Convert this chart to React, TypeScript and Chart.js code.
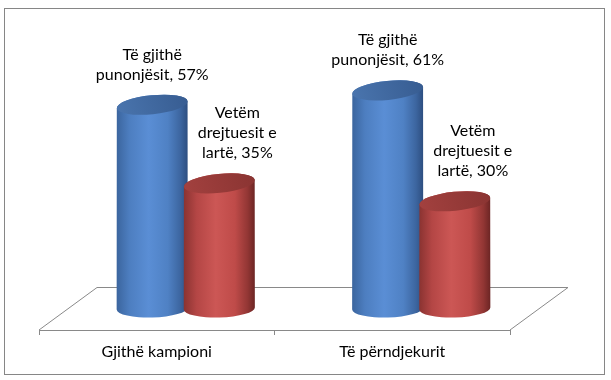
import React, { useEffect, useRef } from "react";
import { Chart, registerables } from "chart.js";

Chart.register(...registerables);

const categories = ["Gjithë kampioni", "Të përndjekurit"];
const seriesNames = ["Të gjithë punonjësit", "Vetëm drejtuesit e lartë"];
const allEmployees = [57, 61];
const seniorManagers = [35, 30];
const seriesLabelLines = [
  ["Të gjithë", "punonjësit"],
  ["Vetëm", "drejtuesit e", "lartë"],
];
const yMax = 80;

const FONT = "Lato, 'Open Sans', sans-serif";
const DEPTH_X = 58;
const DEPTH_Y = 43;
const GRAY = "#898989";

const bodyStops = [
  ["#3b659e", "#4d7ec0", "#5a8ed5", "#4f81c4", "#3c659f", "#2d4e80"],
  ["#8a3331", "#b44645", "#cc5755", "#bf4b49", "#923634", "#6c2524"],
];
const topStops = [
  ["#4a75ae", "#375c91"],
  ["#a3413f", "#8a3432"],
];

function drawCylinder(ctx: CanvasRenderingContext2D, cx: number, topY: number, baseY: number, rx: number, si: number) {
  const ryTop = 9.5;
  const ryBot = 9;
  const rotTop = -0.1;
  const rotBot = -0.03;
  const g = ctx.createLinearGradient(cx - rx, 0, cx + rx, 0);
  const st = bodyStops[si];
  const pos = [0, 0.18, 0.45, 0.72, 0.9, 1];
  st.forEach((c, i) => g.addColorStop(pos[i], c));
  ctx.beginPath();
  ctx.ellipse(cx, topY, rx, ryTop, rotTop, Math.PI, 0, false);
  ctx.ellipse(cx, baseY, rx, ryBot, rotBot, 0, Math.PI, false);
  ctx.closePath();
  ctx.fillStyle = g;
  ctx.fill();
  const tg = ctx.createLinearGradient(cx - rx, topY + ryTop, cx + rx, topY - ryTop);
  tg.addColorStop(0, topStops[si][0]);
  tg.addColorStop(1, topStops[si][1]);
  ctx.beginPath();
  ctx.ellipse(cx, topY, rx, ryTop, rotTop, 0, Math.PI * 2);
  ctx.fillStyle = tg;
  ctx.fill();
}

const cylinderPlugin = {
  id: "cylinders",
  beforeDatasetsDraw(chart: any) {
    const { ctx, chartArea } = chart;
    const l = chartArea.left;
    const r = chartArea.right;
    const b = chartArea.bottom;
    ctx.save();
    ctx.strokeStyle = GRAY;
    ctx.lineWidth = 1;
    ctx.beginPath();
    ctx.moveTo(l, b);
    ctx.lineTo(l + DEPTH_X, b - DEPTH_Y + 0.5);
    ctx.lineTo(r + DEPTH_X, b - DEPTH_Y + 0.5);
    ctx.lineTo(r, b);
    ctx.stroke();
    ctx.restore();
  },
  afterDatasetsDraw(chart: any) {
    const { ctx } = chart;
    const dx = DEPTH_X / 2;
    const dy = DEPTH_Y / 2;
    ctx.save();
    chart.data.datasets.forEach((ds: any, si: number) => {
      const meta = chart.getDatasetMeta(si);
      meta.data.forEach((bar: any) => {
        const cx = bar.x + dx;
        const rx = bar.width / 2 + 2;
        drawCylinder(ctx, cx, bar.y - dy, bar.base - dy, rx, si);
      });
    });
    ctx.font = `16px ${FONT}`;
    ctx.fillStyle = "#000";
    ctx.textAlign = "center";
    ctx.textBaseline = "alphabetic";
    chart.data.datasets.forEach((ds: any, si: number) => {
      const meta = chart.getDatasetMeta(si);
      meta.data.forEach((bar: any, i: number) => {
        const lines = seriesLabelLines[si].slice();
        lines[lines.length - 1] = `${lines[lines.length - 1]}, ${ds.data[i]}%`;
        const cx = bar.x + dx + (si === 1 ? 18 : 0);
        const lastBase = bar.y - dy - 25;
        lines.forEach((t: string, k: number) => {
          ctx.fillText(t, cx, lastBase - (lines.length - 1 - k) * 20);
        });
      });
    });
    ctx.restore();
  },
  afterDraw(chart: any) {
    const { ctx } = chart;
    ctx.save();
    ctx.strokeStyle = "#868686";
    ctx.lineWidth = 1;
    ctx.strokeRect(4.5, 8.5, 600, 366);
    ctx.restore();
  },
};

export default function App() {
  const ref = useRef<HTMLCanvasElement | null>(null);
  useEffect(() => {
    if (!ref.current) return;
    const chart = new Chart(ref.current, {
      type: "bar",
      data: {
        labels: categories,
        datasets: [
          { label: seriesNames[0], data: allEmployees, backgroundColor: "rgba(0,0,0,0)" },
          { label: seriesNames[1], data: seniorManagers, backgroundColor: "rgba(0,0,0,0)" },
        ],
      },
      options: {
        animation: false,
        responsive: false,
        devicePixelRatio: 1,
        layout: { padding: { left: 39, right: 101, top: 44, bottom: 0 } },
        datasets: { bar: { barPercentage: 1, categoryPercentage: 0.57 } } as any,
        plugins: { legend: { display: false }, tooltip: { enabled: false } },
        scales: {
          x: {
            offset: true,
            grid: { display: true, offset: true, drawOnChartArea: false, drawTicks: true, tickLength: 5, color: GRAY },
            border: { display: true, color: GRAY, width: 1 },
            ticks: { color: "#000", font: { family: FONT, size: 16 }, padding: 7 },
            afterFit: (s: any) => { s.height = 50; },
          } as any,
          y: { display: false, min: 0, max: yMax },
        },
      },
      plugins: [cylinderPlugin],
    });
    return () => chart.destroy();
  }, []);
  return (
    <div style={{ position: "fixed", left: 0, top: 0, width: 611, height: 380, background: "#fff" }}>
      <canvas ref={ref} width={611} height={380} style={{ display: "block" }} />
    </div>
  );
}
